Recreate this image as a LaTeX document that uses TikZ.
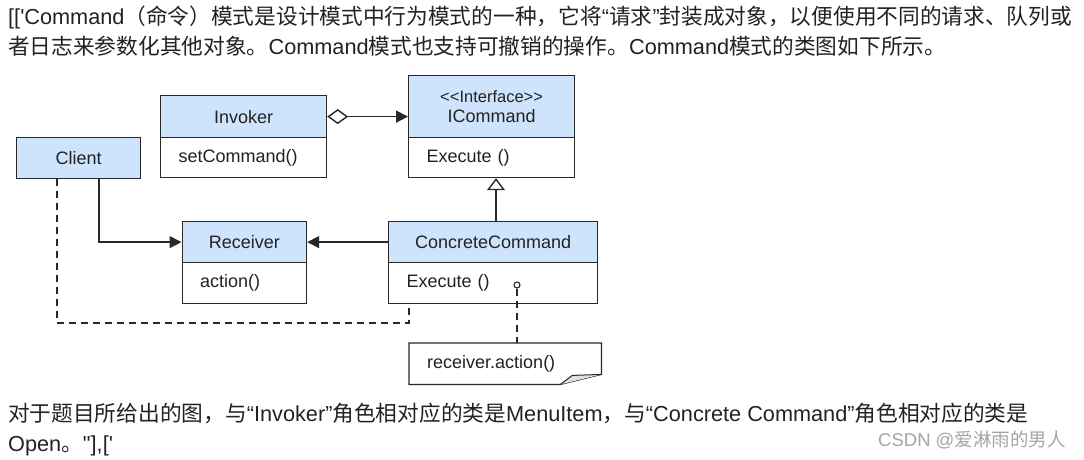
\documentclass[tikz,border=0pt]{standalone}
\usepackage{fontspec}
\setmainfont{Liberation Sans}
\newfontfamily\cjk{Noto Sans CJK SC}
\usetikzlibrary{arrows.meta,calc}
\definecolor{hdrblue}{RGB}{206,228,252}
\definecolor{linec}{RGB}{40,40,40}
\definecolor{txt}{RGB}{34,34,34}
\definecolor{wm}{RGB}{165,165,165}
\newcommand\zh[1]{{\cjk #1}}
\begin{document}
\begin{tikzpicture}[x=1pt,y=-1pt,
  hdr/.style={draw=linec, line width=1.2pt, fill=hdrblue, anchor=north west, inner sep=0pt, font=\fontsize{18}{20}\selectfont, text=txt, align=center},
  body/.style={draw=linec, line width=1.2pt, fill=white, anchor=north west, inner ysep=0pt, inner xsep=18pt, font=\fontsize{18}{20}\selectfont, text=txt, align=left},
  conn/.style={draw=linec, line width=1.4pt},
  dash line/.style={conn, dash pattern=on 7pt off 5pt},
  tip/.style={-{Triangle[length=12pt,width=12pt]}},
  para/.style={anchor=base west, inner sep=0pt, text=txt, font=\fontsize{21.7}{25}\selectfont},
]
\useasboundingbox[fill=white] (0,0) rectangle (1084,460);

% classes
\node[hdr, minimum width=166pt, minimum height=42pt] (invH) at (160,95) {Invoker};
\node[body, minimum height=40pt, text width=130pt] (invB) at (160,137) {setCommand()};

\node[hdr, minimum width=166pt, minimum height=62pt] (icH) at (408,75)
  {{\fontsize{16.5}{20}\selectfont <{}<Interface>{}>}\\ICommand};
\node[body, minimum height=40pt, text width=130pt] (icB) at (408,137) {Execute ()};

\node[hdr, minimum width=124pt, minimum height=41pt] (client) at (16,137) {Client};

\node[hdr, minimum width=124.5pt, minimum height=41pt] (recH) at (181.5,221) {Receiver};
\node[body, minimum height=41pt, text width=88.5pt] (recB) at (181.5,262) {action()};

\node[hdr, minimum width=209pt, minimum height=41pt] (ccH) at (388,221) {ConcreteCommand};
\node[body, minimum height=41pt, text width=173pt] (ccB) at (388,262) {Execute ()};

% note
\node[anchor=north west, minimum width=192pt, minimum height=41pt, inner xsep=18pt, text width=156pt, align=left, font=\fontsize{18}{20}\selectfont, text=txt] (note) at (409,343) {receiver.action()};
\draw[draw=linec, line width=1.2pt] (note.north west) -- (note.north east) -- ($(note.south east)+(0,-10)$) -- ($(note.south east)+(-41,0)$) -- (note.south west) -- cycle;
\draw[draw=linec, line width=1pt, fill=black!12] ($(note.south east)+(-41,0)$) -- ($(note.south east)+(-29,-9)$) -- ($(note.south east)+(0,-10)$);

% connectors
\coordinate (gx) at (496,0);
\coordinate (cx) at (99,0);
\coordinate (dx) at (57,0);
\coordinate (dy) at (0,323);
\coordinate (nx) at (409,0);

\draw[conn, {Diamond[open,length=21pt,width=15pt]}-{Triangle[length=12pt,width=12pt]}] (invH.east) -- (invH.east -| icH.west);
\draw[conn, -{Triangle[open,length=12pt,width=18pt]}] (ccH.north -| gx) -- (icB.south -| gx);
\draw[conn, tip] (client.south -| cx) |- (recH.west);
\draw[conn, tip] (ccH.west) -- (recH.east);
\draw[dash line] (client.south -| dx) |- (dy -| nx) -- (ccB.south -| nx);

\node[circle, draw=linec, line width=1.1pt, fill=white, inner sep=0pt, minimum size=6pt] (pin) at (517,285) {};
\draw[dash line] (pin.south) -- (note.north -| pin);

% text
\node[para] (t1) at (8,25) {[[\textquotesingle Command\zh{（命令）模式是设计模式中行为模式的一种，它将}“\zh{请求}”\zh{封装成对象，以便使用不同的请求、队列或}};
\node[para] (t2) at (8,55) {\zh{者日志来参数化其他对象。}Command\zh{模式也支持可撤销的操作。}Command\zh{模式的类图如下所示。}};
\node[para] (t3) at (8,421) {\zh{对于题目所给出的图，与}“Invoker”\zh{角色相对应的类是}MenuItem\zh{，与}“Concrete Command”\zh{角色相对应的类是}};
\node[para] (t4) at (8,451) {Open\zh{。}\textquotedbl],[\textquotesingle};
\node[anchor=base west, inner sep=0pt, text=wm, font=\fontsize{18.5}{20}\selectfont] (wmk) at (878,446) {CSDN @\zh{爱淋雨的男人}};
\end{tikzpicture}
\end{document}
